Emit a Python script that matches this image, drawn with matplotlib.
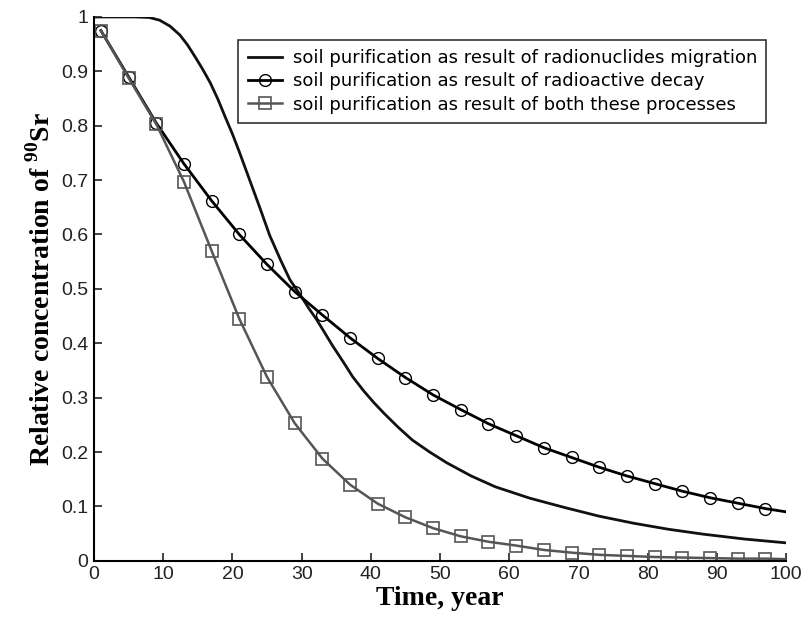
import numpy as np
import matplotlib
matplotlib.use("Agg")
import matplotlib.pyplot as plt

plt.rcParams["mathtext.fontset"] = "custom"
plt.rcParams["mathtext.rm"] = "Liberation Serif:bold"
plt.rcParams["mathtext.bf"] = "Liberation Serif:bold"

# marker years (every 4 years) plus the end of the line at year 100
t_mark = [1, 5, 9, 13, 17, 21, 25, 29, 33, 37, 41, 45, 49, 53, 57, 61, 65, 69, 73, 77, 81, 85, 89, 93, 97, 100]

decay = [0.975, 0.89, 0.805, 0.73, 0.662, 0.60, 0.545, 0.495, 0.452, 0.41, 0.372, 0.337, 0.305,
         0.278, 0.252, 0.23, 0.208, 0.19, 0.172, 0.156, 0.142, 0.128, 0.116, 0.106, 0.096, 0.09]

both = [0.975, 0.888, 0.803, 0.697, 0.57, 0.445, 0.338, 0.253, 0.188, 0.14, 0.105, 0.08, 0.06,
        0.045, 0.035, 0.028, 0.02, 0.015, 0.011, 0.009, 0.007, 0.006, 0.005, 0.004, 0.004, 0.003]

t_mig = [0, 6, 8, 9.5, 11, 12.4, 13.5, 14.6, 15.7, 16.8, 17.9, 18.9, 20, 21, 22.5, 24, 25.4,
         27, 28.3, 29.8, 31, 32.2, 33.4, 34.5, 36, 37.4, 39, 40.5, 42, 44, 46, 48.5, 51, 54.5,
         58, 63, 68, 73, 78, 83, 88, 94, 100]
migration = [1.0, 1.0, 0.999, 0.994, 0.983, 0.967, 0.949, 0.927, 0.904, 0.879, 0.849, 0.818,
             0.785, 0.752, 0.70, 0.648, 0.598, 0.552, 0.517, 0.489, 0.465, 0.443, 0.418,
             0.395, 0.366, 0.338, 0.312, 0.29, 0.27, 0.245, 0.222, 0.2, 0.18, 0.156,
             0.136, 0.115, 0.098, 0.082, 0.069, 0.058, 0.049, 0.04, 0.033]

labels = ["soil purification as result of radionuclides migration",
          "soil purification as result of radioactive decay",
          "soil purification as result of both these processes"]

fig = plt.figure(figsize=(8.03, 6.28), dpi=100)
ax = fig.add_axes([0.117, 0.107, 0.862, 0.866])

n = len(t_mark) - 1
ax.plot(t_mig, migration, color="#111111", lw=2.0, label=labels[0])
ax.plot(t_mark, decay, color="black", lw=2.0, marker="o", ms=8.5, mfc="none", mec="black",
        mew=1.0, markevery=list(range(n)), label=labels[1])
ax.plot(t_mark, both, color="#555555", lw=1.8, marker="s", ms=9, mfc="none", mec="#555555",
        mew=1.2, markevery=list(range(n)), label=labels[2])

ax.set_xlim(0, 100)
ax.set_ylim(0, 1)
ax.set_xticks(np.arange(0, 101, 10))
ax.set_yticks(np.arange(0, 1.01, 0.1))
ax.set_yticklabels(["0", "0.1", "0.2", "0.3", "0.4", "0.5", "0.6", "0.7", "0.8", "0.9", "1"])
ax.tick_params(direction="in", length=6, width=1.2, labelsize=14, pad=4, colors="#222222")
for lab in ax.get_xticklabels() + ax.get_yticklabels():
    lab.set_family("Liberation Sans")
ax.spines["top"].set_visible(False)
ax.spines["right"].set_visible(False)
ax.spines["left"].set_linewidth(1.5)
ax.spines["bottom"].set_linewidth(1.5)

ax.set_xlabel("Time, year", family="Liberation Serif", fontweight="bold", fontsize=20, labelpad=2)
ax.set_ylabel(r"Relative concentration of $^{90}$Sr", family="Liberation Serif",
              fontweight="bold", fontsize=20, labelpad=4)

leg = ax.legend(loc="upper right", bbox_to_anchor=(0.971, 0.958), borderaxespad=0,
                prop={"family": "DejaVu Sans", "size": 13},
                frameon=True, fancybox=False, edgecolor="black", handlelength=1.9,
                borderpad=0.5, labelspacing=0.3, handletextpad=0.6)
leg.get_frame().set_linewidth(1.2)

fig.savefig("out.png", dpi=100)
